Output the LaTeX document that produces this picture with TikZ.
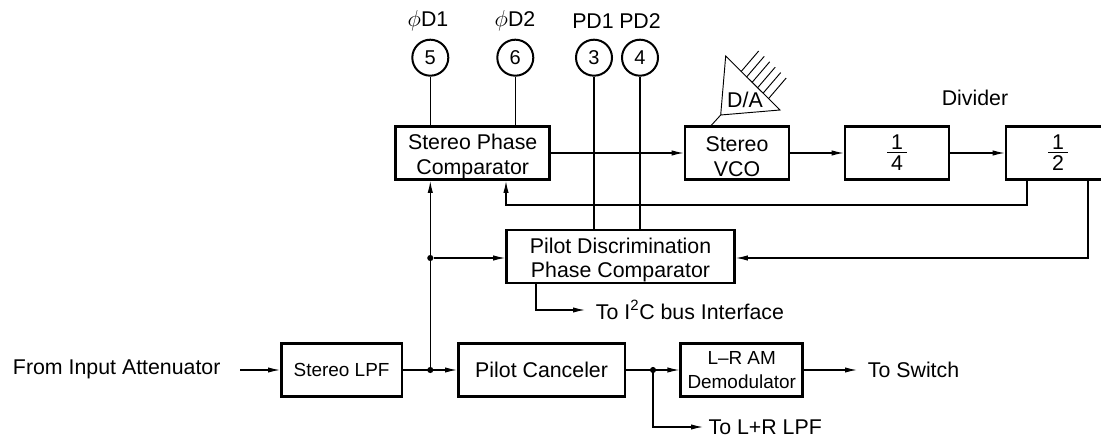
\documentclass[tikz,border=0pt]{standalone}
\usepackage{fontspec}
\setmainfont{Liberation Sans}
\usetikzlibrary{arrows.meta}
\newcommand{\divfrac}[2]{\vbox{\hbox to 14.5pt{\hss #1\hss}\kern1.75pt\hrule width 14.5pt height .75pt\kern2.3pt\hbox to 14.5pt{\hss #2\hss}}}
\tikzset{
    block/.style = {draw, line width = 1.9pt, minimum height = 40pt, align = center, inner sep = 0pt, font = \fontsize{16}{18.7}\selectfont},
    twoline/.style = {block, text height = 35.5pt},
    smallblock/.style = {block, font = \fontsize{14.2}{18}\selectfont},
    pin/.style = {draw, circle, line width = 1.5pt, minimum size = 27pt, inner sep = 0pt, font = \fontsize{15}{18}\selectfont},
    lab/.style = {anchor = west, inner ysep = 0pt, inner xsep = 8pt, font = \fontsize{16}{18.7}\selectfont},
    plainlab/.style = {inner sep = 0pt, font = \fontsize{16}{18.7}\selectfont},
    sig/.style = {line width = .85pt, -{Latex[length = 9pt, width = 4pt]}},
    wire/.style = {line width = .85pt},
    junction/.style = {circle, fill, inner sep = 0pt, minimum size = 4.6pt}
}

\begin{document}
\begin{tikzpicture}[x = .75pt, y = -.75pt]
    \useasboundingbox (0,0) rectangle (1101,441);
    \clip (0,0) rectangle (1101,441);

    % blocks
    \node[twoline, minimum width = 115.5pt] (phase) at (472.7,153) {Stereo Phase\\Comparator};
    \node[twoline, minimum width = 78pt] (vco) at (737,153) {Stereo\\VCO};
    \node[block, minimum width = 78pt] (quarter) at (897,153) {\divfrac{1}{4}};
    \node[block, minimum width = 78pt] (half) at (1058,153) {\divfrac{1}{2}};
    \node[twoline, minimum width = 171pt] (pilot) at (620.5,256.5) {Pilot Discrimination\\Phase Comparator};
    \node[smallblock, minimum width = 90.5pt] (lpf) at (341.6,370) {Stereo LPF};
    \node[block, minimum width = 125pt] (canceler) at (541.6,370) {Pilot Canceler};
    \node[smallblock, minimum width = 91.5pt] (demod) at (741.7,370) {L--R AM\\Demodulator};

    % pins
    \node[pin] (pinfive) at (430.3,57.7) {5};
    \node[pin] (pinsix) at (515.3,57.7) {6};
    \node[pin] (pinthree) at (594,57.7) {3};
    \node[pin] (pinfour) at (640,57.7) {4};
    \node[plainlab] (done) at (428,21) {$\phi$D1};
    \node[plainlab] (dtwo) at (515,21) {$\phi$D2};
    \node[plainlab] (pdone) at (593,21) {PD1};
    \node[plainlab] (pdtwo) at (640,21) {PD2};
    \draw[wire] (pinfive) -- (pinfive |- phase.north);
    \draw[wire] (pinsix) -- (pinsix |- phase.north);
    \draw[wire] (pinthree) -- (pinthree |- pilot.north);
    \draw[wire] (pinfour) -- (pinfour |- pilot.north);

    % D/A symbol
    \coordinate (datop) at (725.7,56);
    \coordinate (daright) at (780,110);
    \coordinate (daleft) at (720.7,115);
    \draw[line width = .7pt] (datop) -- (daright) -- (daleft) -- cycle;
    \draw[line width = .7pt] (daleft) -- (710.7,126);
    \foreach \i in {0,...,5}
        \draw[line width = .7pt] (741+5.5*\i,71.7+5.4*\i) -- (758.7+5.5*\i,51+5.4*\i);
    \node[plainlab] (da) at (745,100) {D/A};
    \node[plainlab] (divider) at (975,98) {Divider};

    % top row
    \draw[sig] (phase) -- (vco);
    \draw[sig] (vco) -- (quarter);
    \draw[sig] (quarter) -- (half);

    % feedback from the divider
    \coordinate (fbone) at (1027,205);
    \coordinate (fbtwo) at (506,205);
    \draw[sig] (fbone |- half.south) -- (fbone) -- (fbtwo) -- (fbtwo |- phase.south);
    \coordinate (fbthree) at (1088,258);
    \draw[sig] (fbthree |- half.south) -- (fbthree) -- (pilot.east |- fbthree);

    % bottom row
    \node[plainlab, anchor = west] (input) at (12.7,369) {From Input Attenuator};
    \coordinate (instart) at (240,370);
    \draw[sig] (instart) -- (instart -| lpf.west);
    \draw[sig] (lpf) -- (canceler);
    \draw[sig] (canceler) -- (demod);
    \node[lab] (switch) at (857,370) {To Switch};
    \draw[sig] (demod) -- (switch);
    \node[junction] (tapa) at (430.3,370) {};
    \node[junction] (tapb) at (430.3,258) {};
    \node[junction] (tapc) at (653,370) {};
    \draw[sig] (tapa) -- (tapa |- phase.south);
    \draw[sig] (tapb) -- (tapb -| pilot.west);

    % outputs
    \node[lab] (bus) at (585,310) {To I\textsuperscript{2}C bus Interface};
    \coordinate (busdrop) at (536,310);
    \draw[sig] (busdrop |- pilot.south) -- (busdrop) -- (bus);
    \node[lab, inner xsep = 4pt] (sum) at (703,427) {To L+R LPF};
    \draw[sig] (tapc) -- (tapc |- sum) -- (sum);
\end{tikzpicture}
\end{document}
